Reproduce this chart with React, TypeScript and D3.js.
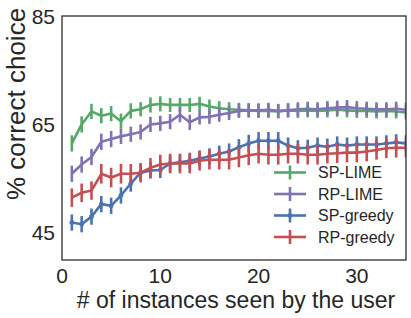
import React from 'react';
import * as d3 from 'd3';

// x positions (instances seen)
const instances = [
  1, 2, 3, 4, 5, 6, 7, 8, 9, 10, 11, 12, 13, 14, 15, 16, 17, 18,
  19, 20, 21, 22, 23, 24, 25, 26, 27, 28, 29, 30, 31, 32, 33, 34, 35,
];

const spLime = [
  61.5, 65.0, 67.4, 66.6, 67.0, 65.6, 67.5, 67.8, 68.6, 68.8, 68.6, 68.6,
  68.6, 68.8, 68.3, 68.0, 67.8, 67.7, 67.6, 67.5, 67.5, 67.4, 67.6, 67.5,
  67.6, 67.5, 67.6, 67.7, 67.6, 67.5, 67.5, 67.4, 67.5, 67.4, 67.2,
];
const rpLime = [
  55.9, 57.6, 59.0, 61.8, 62.3, 62.8, 63.2, 63.6, 65.0, 65.2, 65.5, 66.8,
  65.4, 66.3, 66.4, 66.8, 67.1, 67.5, 67.6, 67.6, 67.7, 67.5, 67.6, 67.8,
  67.9, 67.8, 68.0, 68.1, 68.2, 68.0, 67.9, 67.8, 67.8, 67.9, 67.7,
];
const spGreedy = [
  46.9, 46.6, 48.0, 50.3, 50.0, 51.9, 54.1, 56.1, 56.5, 56.6, 57.8, 58.0,
  58.3, 58.7, 59.1, 59.6, 60.0, 60.8, 61.5, 62.0, 62.0, 62.0, 61.1, 60.6,
  60.7, 61.1, 60.9, 61.3, 61.1, 61.3, 61.3, 61.3, 61.5, 61.7, 61.5,
];
const rpGreedy = [
  51.5, 52.4, 52.8, 55.9, 55.2, 55.9, 55.9, 56.1, 57.0, 57.6, 57.8, 57.8,
  57.8, 58.3, 58.5, 58.5, 58.5, 58.9, 59.3, 59.6, 59.4, 59.4, 59.6, 59.6,
  59.4, 59.4, 59.6, 59.7, 59.8, 59.8, 60.0, 60.3, 60.6, 60.7, 60.7,
];

// standard errors (half bar length)
const spLimeErr = [
  1.5, 1.5, 1.4, 1.4, 1.4, 1.4, 1.4, 1.3, 1.4, 1.4, 1.3, 1.3,
  1.3, 1.3, 1.3, 1.3, 1.3, 1.3, 1.3, 1.3, 1.3, 1.3, 1.3, 1.3,
  1.3, 1.3, 1.3, 1.3, 1.3, 1.3, 1.3, 1.3, 1.3, 1.3, 1.3,
];
const rpLimeErr = [
  1.5, 1.5, 1.5, 1.5, 1.5, 1.4, 1.4, 1.4, 1.4, 1.4, 1.4, 1.4,
  1.4, 1.3, 1.3, 1.3, 1.3, 1.3, 1.3, 1.3, 1.3, 1.3, 1.3, 1.3,
  1.3, 1.3, 1.3, 1.3, 1.3, 1.3, 1.3, 1.3, 1.3, 1.3, 1.3,
];
const spGreedyErr = [
  1.5, 1.5, 1.5, 1.5, 1.5, 1.5, 1.5, 1.5, 1.5, 1.5, 1.5, 1.5,
  1.5, 1.5, 1.5, 1.5, 1.5, 1.5, 1.6, 1.6, 1.6, 1.6, 1.5, 1.5,
  1.5, 1.5, 1.5, 1.5, 1.5, 1.5, 1.5, 1.5, 1.5, 1.5, 1.5,
];
const rpGreedyErr = [
  1.7, 1.7, 1.7, 1.8, 1.8, 1.8, 1.8, 1.8, 1.8, 1.8, 1.8, 1.8,
  1.8, 1.8, 1.8, 1.8, 1.8, 1.8, 1.8, 1.8, 1.8, 1.8, 1.8, 1.8,
  1.8, 1.8, 1.8, 1.8, 1.8, 1.8, 1.8, 1.8, 1.8, 1.8, 1.8,
];

const seriesNames = ['SP-LIME', 'RP-LIME', 'SP-greedy', 'RP-greedy'];
const seriesValues = [spLime, rpLime, spGreedy, rpGreedy];
const seriesErrors = [spLimeErr, rpLimeErr, spGreedyErr, rpGreedyErr];
const seriesColors = ['#55A868', '#8172B2', '#4C72B0', '#C44E52'];
const seriesMarkers = [false, false, true, false];

const xTicks = [0, 10, 20, 30];
const yTicks = [45, 65, 85];

const W = 411;
const H = 318;
const margin = { left: 62, top: 16, right: 5, bottom: 58 };
const FONT = 'Arial, "Liberation Sans", sans-serif';

export default function App() {
  const x = d3.scaleLinear().domain([0, 35]).range([margin.left, W - margin.right]);
  const y = d3.scaleLinear().domain([40, 85]).range([H - margin.bottom, margin.top]);

  const line = d3
    .line<number>()
    .x((_, i) => x(instances[i]))
    .y((d) => y(d));

  const legendX = 274;
  const legendY = 172.5;
  const legendStep = 21.5;

  return (
    <svg
      width={W}
      height={H}
      style={{ position: 'absolute', left: 0, top: 0, background: '#fff' }}
      fontFamily={FONT}
    >
      <defs>
        <clipPath id="plot-clip">
          <rect
            x={margin.left}
            y={margin.top}
            width={W - margin.left - margin.right}
            height={H - margin.top - margin.bottom}
          />
        </clipPath>
      </defs>

      <g clipPath="url(#plot-clip)">
        {seriesValues.map((vals, s) => (
          <g key={seriesNames[s]} stroke={seriesColors[s]} fill="none">
            <path d={line(vals) ?? ''} strokeWidth={2.6} strokeLinejoin="round" />
            {vals.map((v, i) => (
              <line
                key={i}
                x1={x(instances[i])}
                x2={x(instances[i])}
                y1={y(v - seriesErrors[s][i])}
                y2={y(v + seriesErrors[s][i])}
                strokeWidth={2.6}
              />
            ))}
            {seriesMarkers[s] &&
              vals.map((v, i) => (
                <circle
                  key={'m' + i}
                  cx={x(instances[i])}
                  cy={y(v)}
                  r={2.4}
                  fill={seriesColors[s]}
                  stroke="none"
                />
              ))}
          </g>
        ))}
      </g>

      {/* frame */}
      <rect
        x={margin.left}
        y={margin.top}
        width={W - margin.left - margin.right}
        height={H - margin.top - margin.bottom}
        fill="none"
        stroke="#262626"
        strokeWidth={1.25}
      />

      {/* y ticks */}
      {yTicks.map((t) => (
        <text
          key={t}
          x={55}
          y={y(t)}
          textAnchor="end"
          dominantBaseline="central"
          fontSize={21}
          fill="#262626"
        >
          {t}
        </text>
      ))}

      {/* x ticks */}
      {xTicks.map((t) => (
        <text
          key={t}
          x={x(t)}
          y={283}
          textAnchor="middle"
          fontSize={21}
          fill="#262626"
        >
          {t}
        </text>
      ))}

      <text x={236} y={308} textAnchor="middle" fontSize={23} fill="#262626">
        # of instances seen by the user
      </text>

      <text
        transform="translate(25,104) rotate(-90)"
        textAnchor="middle"
        fontSize={26}
        fill="#262626"
      >
        % correct choice
      </text>

      {/* legend */}
      {seriesNames.map((name, s) => {
        const cy = legendY + s * legendStep;
        return (
          <g key={name}>
            <line
              x1={legendX}
              x2={legendX + 32}
              y1={cy}
              y2={cy}
              stroke={seriesColors[s]}
              strokeWidth={2.6}
            />
            <line
              x1={legendX + 16}
              x2={legendX + 16}
              y1={cy - 7}
              y2={cy + 7}
              stroke={seriesColors[s]}
              strokeWidth={2.6}
            />
            {seriesMarkers[s] && (
              <circle cx={legendX + 16} cy={cy} r={2.4} fill={seriesColors[s]} />
            )}
            <text
              x={legendX + 44}
              y={cy}
              dominantBaseline="central"
              fontSize={16}
              fill="#262626"
            >
              {name}
            </text>
          </g>
        );
      })}
    </svg>
  );
}
